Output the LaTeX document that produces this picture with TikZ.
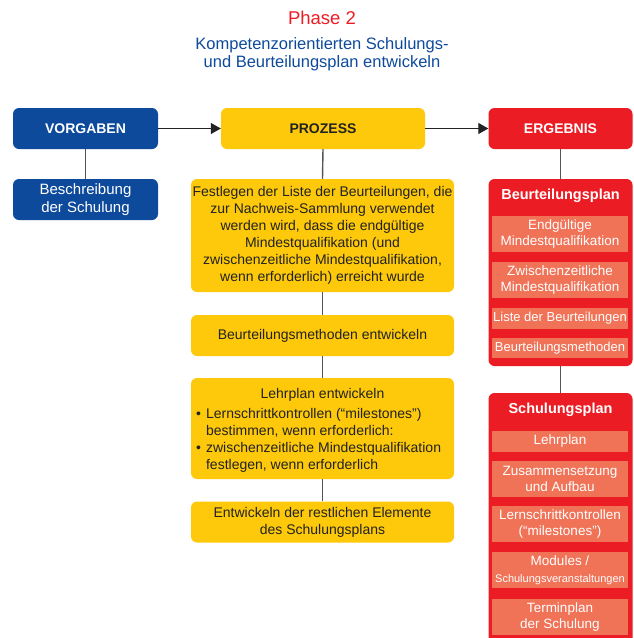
\documentclass[tikz,border=0pt]{standalone}
\usepackage{fontspec}
\setmainfont{Liberation Sans}
\usetikzlibrary{arrows.meta}
\definecolor{cblue}{HTML}{0D4A9C}
\definecolor{cyellow}{HTML}{FDC90A}
\definecolor{cred}{HTML}{EC1C24}
\definecolor{csalmon}{HTML}{F07257}
\definecolor{cline}{HTML}{555555}
\definecolor{cdark}{HTML}{222222}
\begin{document}
\begin{tikzpicture}[x=1pt,y=-1pt,
  box/.style={rounded corners=6pt, inner sep=0pt, align=center, font=\fontsize{14}{17}\selectfont},
  bluebox/.style={box, fill=cblue, text=white},
  yellowbox/.style={box, fill=cyellow, text=cdark},
  redbox/.style={box, fill=cred, text=white},
  inner/.style={inner sep=0pt, fill=csalmon, text=white, align=center, minimum width=136, font=\fontsize{13.5}{16.5}\selectfont},
  head/.style={font=\fontsize{14}{16}\selectfont\bfseries},
  conn/.style={draw=cline, line width=1.4pt},
  flow/.style={draw=cdark, line width=1.2pt, -{Triangle[length=10pt,width=11pt]}},
  ttl/.style={font=\fontsize{14.5}{16}\selectfont\bfseries, text=white}
]
\useasboundingbox (0,0) rectangle (633,638);

\node[text=cred, font=\fontsize{18.5}{20}\selectfont] (phase) at (322,18) {Phase 2};
\node[text=cblue, align=center, font=\fontsize{16.5}{18}\selectfont] (sub) at (322,54) {Kompetenzorientierten Schulungs-\\und Beurteilungsplan entwickeln};

% header row
\node[bluebox, head, minimum width=145, minimum height=41] (vorg) at (85.5,128.5) {VORGABEN};
\node[yellowbox, head, minimum width=204, minimum height=41] (proz) at (323,128.5) {PROZESS};
\node[redbox, head, minimum width=144, minimum height=41] (erg) at (560.5,128.5) {ERGEBNIS};

\draw[flow] (vorg.east) -- (proz.west);
\draw[flow] (proz.east) -- (erg.west);

% left column
\node[bluebox, minimum width=145, minimum height=41, font=\fontsize{15}{18}\selectfont] (besch) at (85.5,199.5) {Beschreibung\\der Schulung};
\draw[conn] (vorg.south) -- (besch.north);

% middle column
\node[yellowbox, minimum width=263, minimum height=113] (fest) at (322.5,235.5)
 {Festlegen der Liste der Beurteilungen, die\\zur Nachweis-Sammlung verwendet\\werden wird, dass die endgültige\\Mindestqualifikation (und\\zwischenzeitliche Mindestqualifikation,\\wenn erforderlich) erreicht wurde};
\node[yellowbox, minimum width=263, minimum height=41] (bmeth) at (322.5,335.5) {Beurteilungsmethoden entwickeln};
\node[yellowbox, minimum width=263, minimum height=101] (lehr) at (322.5,428.5) {};
\node[text=cdark, font=\fontsize{14}{17}\selectfont, inner sep=0pt] (lehrt) at (322.5,395) {Lehrplan entwickeln};
\node[text=cdark, font=\fontsize{14}{17}\selectfont, inner sep=0pt, anchor=north west, align=left] (lehrl) at (196,406.5)
 {\begin{tabular}{@{}l@{\hspace{5pt}}l@{}}
 \textbullet & Lernschrittkontrollen (“milestones”)\\
  & bestimmen, wenn erforderlich:\\
 \textbullet & zwischenzeitliche Mindestqualifikation\\
  & festlegen, wenn erforderlich
 \end{tabular}};
\node[yellowbox, minimum width=263, minimum height=41] (entw) at (322.5,522) {Entwickeln der restlichen Elemente\\des Schulungsplans};

\draw[conn] (proz.south) -- (fest.north);
\draw[conn] (fest.south) -- (bmeth.north);
\draw[conn] (bmeth.south) -- (lehr.north);
\draw[conn] (lehr.south) -- (entw.north);

% right column
\node[redbox, minimum width=144, minimum height=187] (bplan) at (560.5,272.5) {};
\node[ttl] (bplant) at (560.5,196) {Beurteilungsplan};
\node[inner, minimum height=36] (e1) at (560,234) {Endgültige\\Mindestqualifikation};
\node[inner, minimum height=36] (e2) at (560,280) {Zwischenzeitliche\\Mindestqualifikation};
\node[inner, minimum height=21] (e3) at (560,318.5) {\fontsize{13}{14}\selectfont Liste der Beurteilungen};
\node[inner, minimum height=20] (e4) at (560,348) {\fontsize{13}{14}\selectfont Beurteilungsmethoden};

\node[redbox, minimum width=144, minimum height=257] (splan) at (560.5,521.5) {};
\node[ttl] (splant) at (560.5,410) {Schulungsplan};
\node[inner, minimum height=21] (s1) at (560,441.5) {Lehrplan};
\node[inner, minimum height=36] (s2) at (560,479) {Zusammensetzung\\und Aufbau};
\node[inner, minimum height=36] (s3) at (560,524) {Lernschrittkontrollen\\(“milestones”)};
\node[inner, minimum height=36] (s4) at (560,570) {Modules /\\{\fontsize{11}{14}\selectfont Schulungsveranstaltungen}};
\node[inner, minimum height=36] (s5) at (560,617) {Terminplan\\der Schulung};

\draw[conn] (erg.south) -- (bplan.north);
\draw[conn] (bplan.south) -- (splan.north);
\end{tikzpicture}
\end{document}
